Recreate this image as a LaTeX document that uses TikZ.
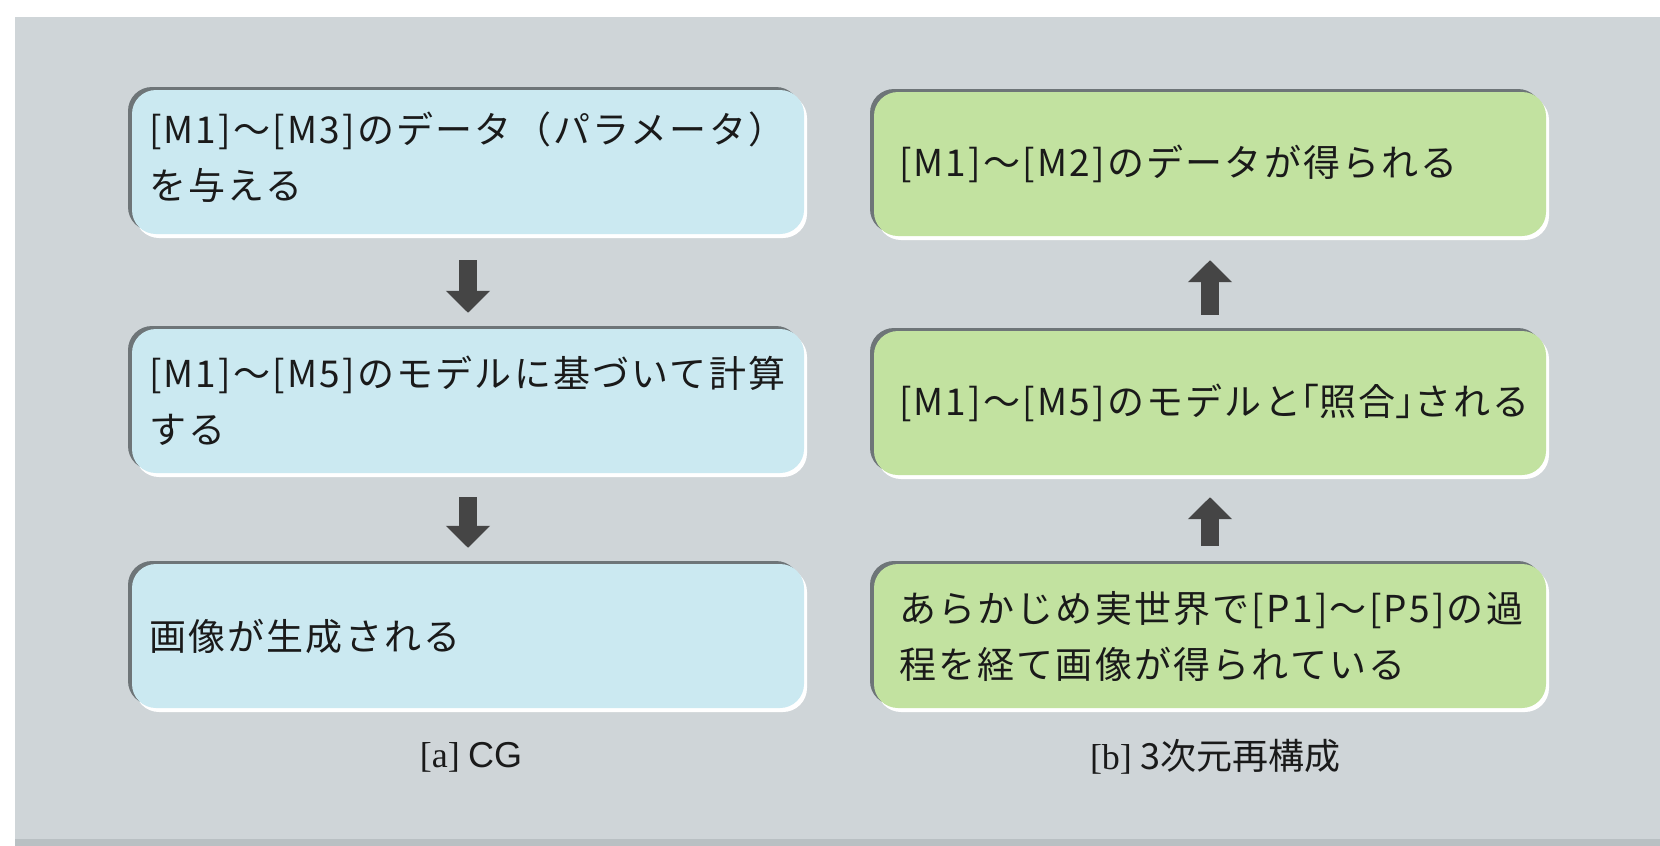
\documentclass[tikz,border=0pt]{standalone}
\usepackage{fontspec}
\setmainfont{Noto Sans CJK JP}
\newfontfamily\jpbox{Noto Sans CJK JP}[LetterSpace=6]
\newfontfamily\jphalt{Noto Sans CJK JP}[LetterSpace=6, RawFeature=+halt]
\newfontfamily\serifcap{Liberation Serif}
\newfontfamily\helcap{Liberation Sans}
\newcommand{\hk}[1]{{\jphalt #1}}
\usetikzlibrary{arrows.meta}
\definecolor{bg}{HTML}{CFD5D8}
\definecolor{bgdark}{HTML}{B9C0C3}
\definecolor{blu}{HTML}{CBE9F1}
\definecolor{grn}{HTML}{C2E2A0}
\definecolor{shd}{HTML}{6E7578}
\definecolor{arr}{HTML}{454545}
\definecolor{txt}{HTML}{1A1A1A}
\begin{document}
\begin{tikzpicture}[x=1pt,y=-1pt,
  boxbase/.style={rounded corners=24pt, minimum width=672pt, minimum height=144pt,
    align=left, inner ysep=0pt, font=\jpbox\fontsize{37}{56}\selectfont, text=txt,
    preaction={fill=white, transform canvas={shift={(3pt,-4pt)}}},
    preaction={fill=shd, transform canvas={shift={(-4pt,3pt)}}}},
  bluebox/.style={boxbase, fill=blu, inner xsep=17pt, text width=638pt},
  greenbox/.style={boxbase, fill=grn, inner xsep=25pt, text width=622pt},
  blockarrow/.style={draw=arr, line width=18pt, -{Triangle[width=43pt,length=22pt]}},
  caption/.style={font=\fontsize{36}{40}\selectfont, text=txt}
]
\useasboundingbox (0,0) rectangle (1660,846);
\fill[white] (0,0) rectangle (1660,846);
\fill[bg] (15,17) rectangle (1660,846);
\fill[bgdark] (15,839) rectangle (1660,846);

\node[bluebox] (a1) at (468,162) {[M1]～[M3]のデータ（パラメータ）\\を与える\par\vspace{10pt}};
\node[bluebox] (a2) at (468,401) {[M1]～[M5]のモデルに基づいて計算\\する};
\node[bluebox] (a3) at (468,636) {画像が生成される};

\node[greenbox] (b1) at (1210,164) {[M1]～[M2]のデータが得られる};
\node[greenbox] (b2) at (1210,403) {[M1]～[M5]のモデルと\hk{「}照合\hk{」}される};
\node[greenbox] (b3) at (1210,636) {あらかじめ実世界で[P1]～[P5]の過\\程を経て画像が得られている};

\draw[blockarrow, shorten <=26pt, shorten >=16pt] (a1.south) -- (a2.north);
\draw[blockarrow, shorten <=24pt, shorten >=16pt] (a2.south) -- (a3.north);
\draw[blockarrow, shorten <=16pt, shorten >=24pt] (b2.north) -- (b1.south);
\draw[blockarrow, shorten <=18pt, shorten >=22pt] (b3.north) -- (b2.south);

\node[caption] (ca) at (471,757) {{\serifcap [a]} {\helcap CG}};
\node[caption] (cb) at (1215,757) {{\serifcap [b]} 3次元再構成};
\end{tikzpicture}
\end{document}
